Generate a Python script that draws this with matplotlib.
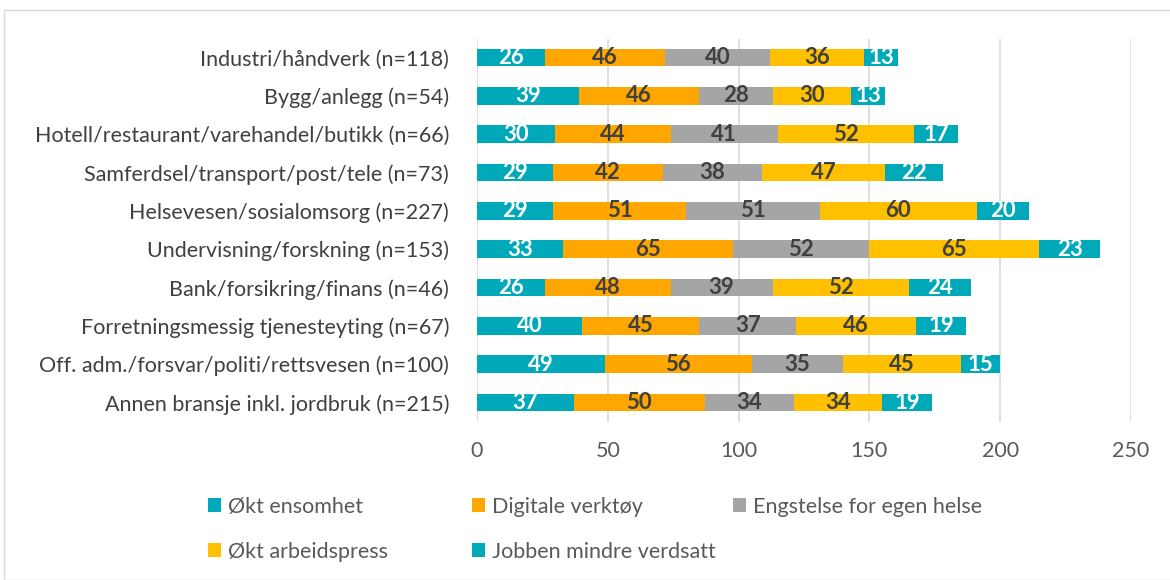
import numpy as np
import matplotlib.pyplot as plt
from matplotlib.patches import Rectangle

plt.rcParams['font.family'] = ['Lato', 'DejaVu Sans']

# Data (top to bottom)
categories = [
    'Industri/håndverk (n=118)',
    'Bygg/anlegg (n=54)',
    'Hotell/restaurant/varehandel/butikk (n=66)',
    'Samferdsel/transport/post/tele (n=73)',
    'Helsevesen/sosialomsorg (n=227)',
    'Undervisning/forskning (n=153)',
    'Bank/forsikring/finans (n=46)',
    'Forretningsmessig tjenesteyting (n=67)',
    'Off. adm./forsvar/politi/rettsvesen (n=100)',
    'Annen bransje inkl. jordbruk (n=215)',
]
series_names = ['Økt ensomhet', 'Digitale verktøy', 'Engstelse for egen helse',
                'Økt arbeidspress', 'Jobben mindre verdsatt']
okt_ensomhet = [26, 39, 30, 29, 29, 33, 26, 40, 49, 37]
digitale_verktoy = [46, 46, 44, 42, 51, 65, 48, 45, 56, 50]
engstelse = [40, 28, 41, 38, 51, 52, 39, 37, 35, 34]
arbeidspress = [36, 30, 52, 47, 60, 65, 52, 46, 45, 34]
mindre_verdsatt = [13, 13, 17, 22, 20, 23, 24, 19, 15, 19]

series = [okt_ensomhet, digitale_verktoy, engstelse, arbeidspress, mindre_verdsatt]
colors = ['#00A9B9', '#FFA600', '#A5A5A5', '#FFC000', '#00A9B9']
label_colors = ['white', '#404040', '#404040', '#404040', 'white']

fig = plt.figure(figsize=(11.7, 5.8), dpi=100)
ax = fig.add_axes([477 / 1170, 1 - 421.5 / 580, (1131 - 477) / 1170, 383 / 580])

y = np.arange(len(categories))
left = np.zeros(len(categories))
handles = []
for vals, name, c, lc in zip(series, series_names, colors, label_colors):
    vals = np.array(vals)
    bars = ax.barh(y, vals, left=left, height=0.46, color=c, label=name, zorder=3)
    handles.append(bars)
    for b, v in zip(bars, vals):
        ax.text(b.get_x() + b.get_width() / 2, b.get_y() + b.get_height() / 2, str(v),
                ha='center', va='center', color=lc, fontsize=16, fontweight='bold', zorder=4)
    left += vals

ax.set_xlim(0, 250)
ax.set_ylim(len(categories) - 0.5, -0.5)
ax.set_xticks(range(0, 251, 50))
ax.set_yticks(y)
ax.set_yticklabels(categories, fontsize=15.5, color='#404040')
ax.tick_params(axis='x', labelsize=15.5, labelcolor='#595959', length=0, pad=14)
ax.tick_params(axis='y', length=0, pad=20)
ax.grid(axis='x', color='#D9D9D9', linewidth=1.2, zorder=0)
for s in ax.spines.values():
    s.set_visible(False)

# legend entries laid out like the original (3 per row, fixed columns)
leg_x = [208, 472, 733, 208, 472]
leg_y = [507, 507, 507, 552, 552]
for h, name, lx, ly in zip(handles, series_names, leg_x, leg_y):
    leg = fig.legend([h], [name], loc='center left', bbox_to_anchor=(lx / 1170, 1 - ly / 580),
                     frameon=False, fontsize=15.5, handlelength=0.62, handleheight=0.62,
                     handletextpad=0.3, borderpad=0, borderaxespad=0)
    for t in leg.get_texts():
        t.set_color('#595959')

fig.patches.append(Rectangle((4 / 1170, 0), 1, 1 - 10 / 580, transform=fig.transFigure,
                             fill=False, edgecolor='#D9D9D9', linewidth=1))

fig.savefig('out.png', dpi=100)
